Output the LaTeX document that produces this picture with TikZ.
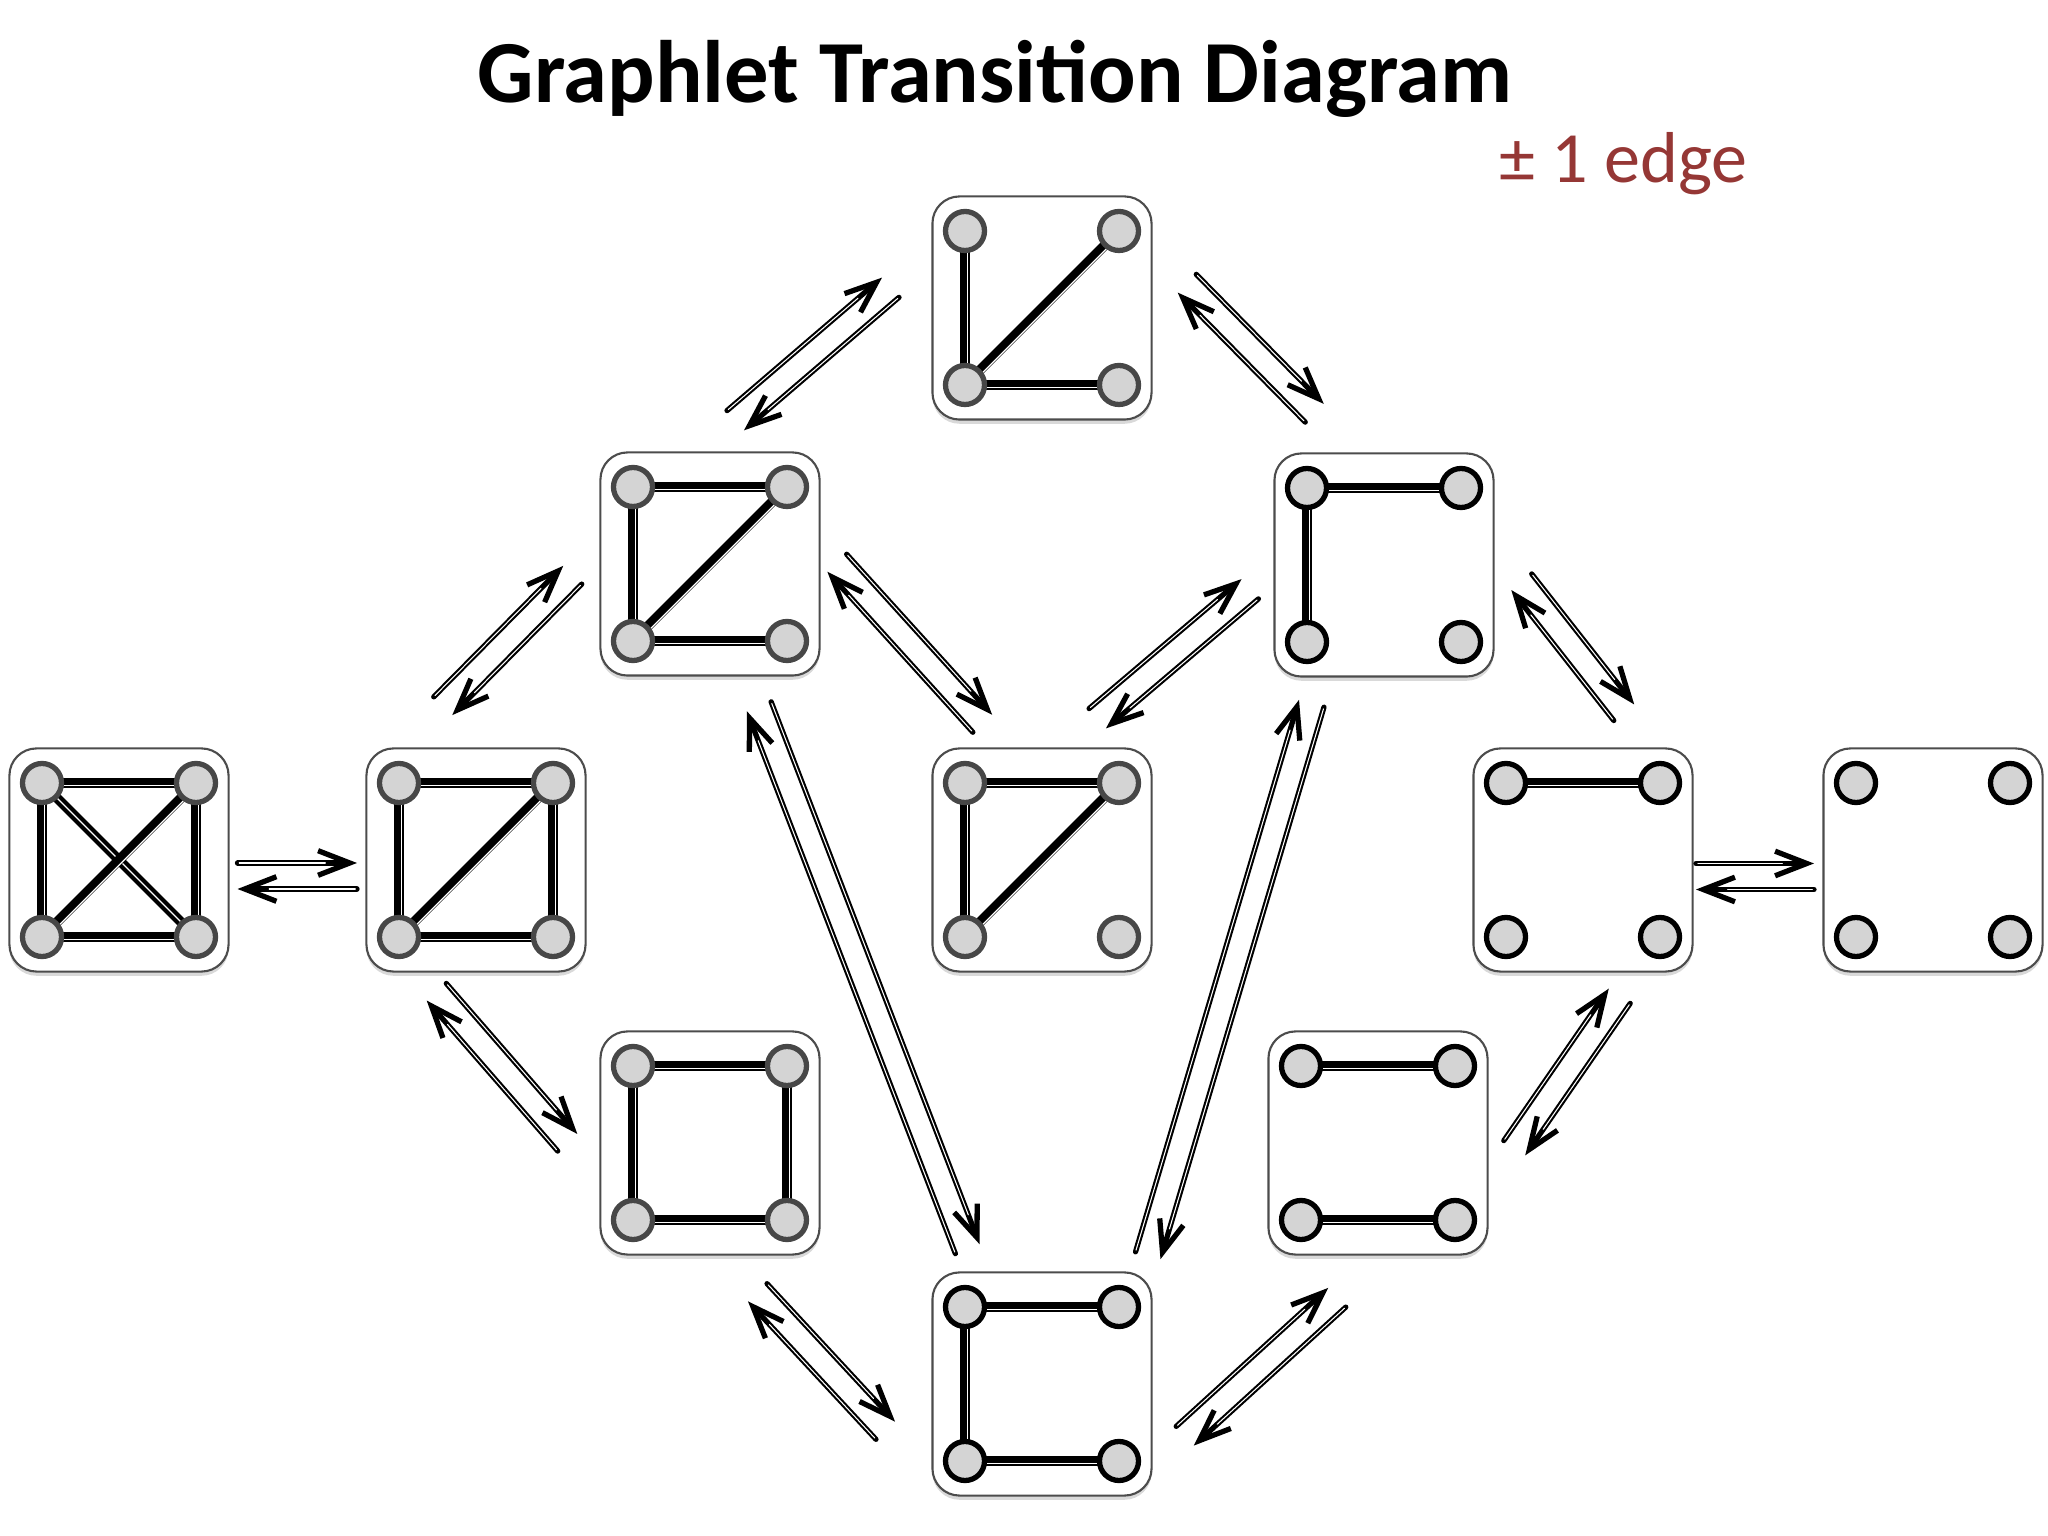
\documentclass[tikz,border=0pt]{standalone}
\usepackage{fontspec}
\setmainfont{Carlito}
\usetikzlibrary{calc,shadows,arrows.meta}
\definecolor{edgered}{RGB}{149,55,53}

% graphlet box with vertices 1 TL, 2 TR, 3 BL, 4 BR
\newcommand{\graphlet}[4][]{%
	\node[gbox] (#2) at (#3) {};
	\coordinate (#2-1) at ($(#2)+(-77,77)$);
	\coordinate (#2-2) at ($(#2)+(77,77)$);
	\coordinate (#2-3) at ($(#2)+(-77,-77)$);
	\coordinate (#2-4) at ($(#2)+(77,-77)$);
	\if\relax\detokenize{#1}\relax\else
		\foreach \a/\b in {#1} \draw[gedge] (#2-\a)--(#2-\b);
	\fi
	\foreach \v in {1,2,3,4} \node[#4] (#2v\v) at (#2-\v) {};
}
% pair of opposite arrows between two graphlets
\newcommand{\trans}[4]{%
	\coordinate (#1#3a) at ([shift={#2}]#1.center);
	\coordinate (#1#3b) at ([shift={#4}]#3.center);
	\draw[trarrow] ($(#1#3a)!0.13cm!90:(#1#3b)$)--($(#1#3b)!0.13cm!-90:(#1#3a)$);
	\draw[trarrow] ($(#1#3b)!0.13cm!90:(#1#3a)$)--($(#1#3a)!0.13cm!-90:(#1#3b)$);
}

\begin{document}
\begin{tikzpicture}[x=0.01cm, y=0.01cm, line join=round, line cap=round, >={Straight Barb[length=9pt,width=7pt]},
	gbox/.style={draw=black!70, line width=0.6pt, fill=white, rounded corners=0.27cm, minimum width=2.19cm, minimum height=2.23cm, inner sep=0pt, drop shadow={shadow xshift=0pt, shadow yshift=-1.2pt, opacity=0.3}},
	vert/.style={circle, draw=black!72, fill=black!17, line width=1.5pt, minimum size=0.39cm, inner sep=0pt},
	vertb/.style={vert, draw=black},
	gedge/.style={line width=2.8pt, postaction={draw=white, line width=0.35pt, transform canvas={shift={(0.75pt,-0.75pt)}}}},
	trarrow/.style={->, line width=1.5pt, postaction={draw=white, line width=0.3pt, arrows=-, shorten >=9pt, shorten <=0.5pt}}]
	\useasboundingbox (0,0) rectangle (2048,1536);
	\node[anchor=base, inner sep=0pt, font=\bfseries\fontsize{25.2}{30}\selectfont] (title) at (995,1433) {Graphlet Transition Diagram};
	\node[anchor=base west, inner sep=0pt, text=edgered, font=\fontsize{20.5}{25}\selectfont] (pm) at (1499,1353) {± 1 edge};
	\graphlet[1/2,3/4,1/3,2/4,1/4,2/3]{kfour}{119,676}{vert}
	\graphlet[1/2,3/4,1/3,2/4,2/3]{diam}{476,676}{vert}
	\graphlet[1/2,1/3,2/3,3/4]{paw}{710,972}{vert}
	\graphlet[1/2,1/3,2/4,3/4]{cycle}{710,393}{vert}
	\graphlet[1/3,2/3,3/4]{star}{1042,1228}{vert}
	\graphlet[1/2,1/3,2/3]{tri}{1042,676}{vert}
	\graphlet[1/2,1/3,3/4]{pfour}{1042,152}{vertb}
	\graphlet[1/2,1/3]{wedge}{1384,971}{vertb}
	\graphlet[1/2,3/4]{match}{1378,393}{vertb}
	\graphlet[1/2]{oneedge}{1583,676}{vertb}
	\graphlet{empty}{1933,676}{vertb}
	\trans{paw}{(25.5,143.5)}{star}{(-151.5,20.5)}
	\trans{star}{(145,24.5)}{wedge}{(-69.5,152)}
	\trans{diam}{(-33,154)}{paw}{(-137.5,-11)}
	\trans{paw}{(127,1)}{tri}{(-59.5,136.5)}
	\trans{tri}{(55.5,141.5)}{wedge}{(-134,-24)}
	\trans{wedge}{(137.5,-17)}{oneedge}{(41,147.5)}
	\trans{kfour}{(118.5,-16)}{diam}{(-119,-16)}
	\trans{oneedge}{(113,-16.5)}{empty}{(-119,-16.5)}
	\trans{diam}{(-39.5,-132)}{cycle}{(-142.5,0.5)}
	\trans{paw}{(49,-142.5)}{pfour}{(-74.5,135)}
	\trans{wedge}{(-72.5,-138.5)}{pfour}{(106,128.5)}
	\trans{cycle}{(47.5,-149.5)}{pfour}{(-156.5,-46.5)}
	\trans{pfour}{(143,-52)}{match}{(-41,-154.5)}
	\trans{match}{(136.5,-5)}{oneedge}{(36.5,-136)}
\end{tikzpicture}
\end{document}
